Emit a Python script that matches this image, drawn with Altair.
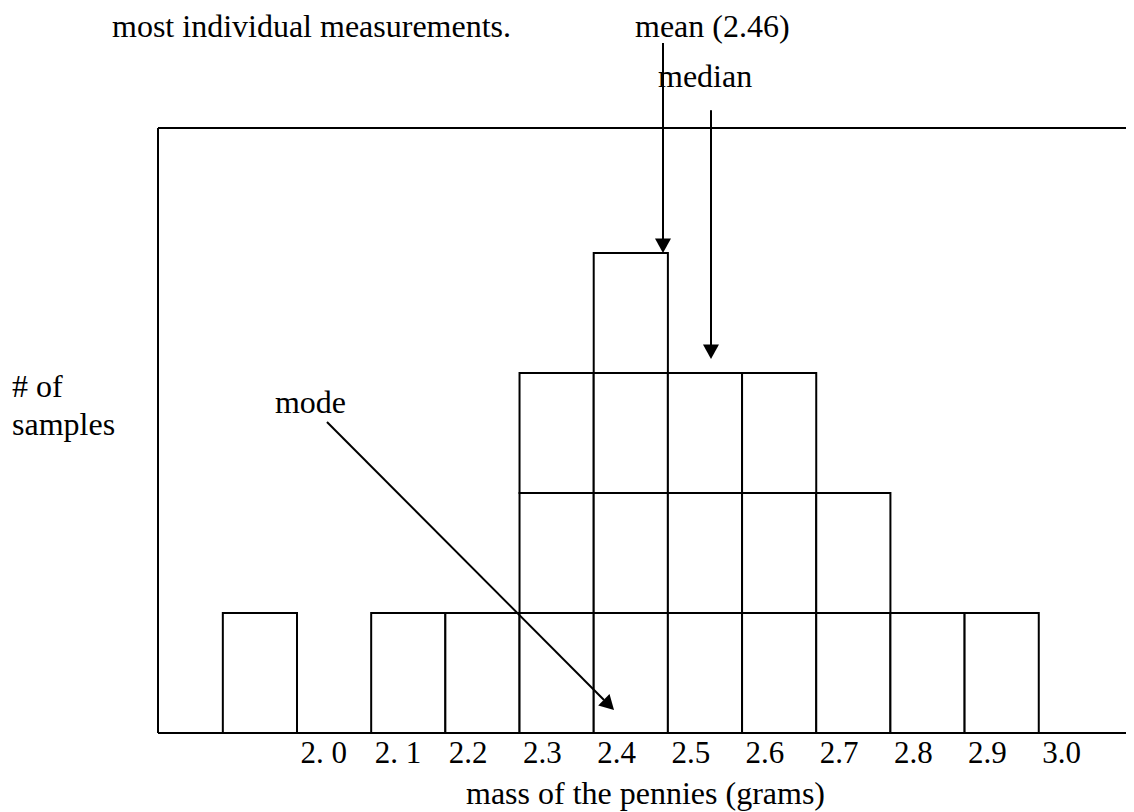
import json
import altair as alt
import pandas as pd

# ---- data ----
bin_starts = [1.9, 2.0, 2.1, 2.2, 2.3, 2.4, 2.5, 2.6, 2.7, 2.8, 2.9]
counts = [1, 0, 1, 1, 3, 4, 3, 3, 2, 1, 1]
bin_width = 0.1

tick_values = [2.0, 2.1, 2.2, 2.3, 2.4, 2.5, 2.6, 2.7, 2.8, 2.9, 3.0]
tick_labels = ["2. 0", "2. 1", "2.2", "2.3", "2.4", "2.5", "2.6", "2.7", "2.8", "2.9", "3.0"]

x_title = "mass of the pennies (grams)"

# annotation texts (data coordinates: grams, samples)
ann_text = ["most individual measurements.", "mean (2.46)", "median", "mode", "# of", "samples"]
ann_x = [1.7506, 2.4557, 2.4867, 1.9703, 1.6158, 1.6158]
ann_y = [5.800, 5.800, 5.383, 2.667, 2.800, 2.483]

# annotation arrows
arrow_name = ["mean", "median", "mode"]
arrow_x_start = [2.4934, 2.5581, 2.0404]
arrow_y_start = [5.750, 5.190, 2.592]
arrow_x_end = [2.4934, 2.5581, 2.4139]
arrow_y_end = [4.110, 3.230, 0.275]
arrow_x_tip = [2.4934, 2.5581, 2.4274]
arrow_y_tip = [4.000, 3.117, 0.192]
arrow_angle = [0, 0, 315]

X_DOMAIN = [1.8126, 3.1176]
Y_DOMAIN = [0, 5.0417]

FONT = "Liberation Serif"

# ---- tables ----
cells = []
for s, c in zip(bin_starts, counts):
    for k in range(c):
        cells.append({"x": s, "x2": round(s + bin_width, 4), "y": k, "y2": k + 1})
cells_df = pd.DataFrame(cells)

box_df = pd.DataFrame({
    "x": [X_DOMAIN[0], X_DOMAIN[0], X_DOMAIN[0]],
    "x2": [X_DOMAIN[1], X_DOMAIN[0], X_DOMAIN[1]],
    "y": [Y_DOMAIN[1], 0, 0],
    "y2": [Y_DOMAIN[1], Y_DOMAIN[1], 0],
})

ann_df = pd.DataFrame({"text": ann_text, "x": ann_x, "y": ann_y})
arrow_df = pd.DataFrame({
    "name": arrow_name,
    "x": arrow_x_start, "y": arrow_y_start,
    "x2": arrow_x_end, "y2": arrow_y_end,
    "tx": arrow_x_tip, "ty": arrow_y_tip,
    "ang": arrow_angle,
})

xscale = alt.Scale(domain=X_DOMAIN, nice=False, zero=False)
yscale = alt.Scale(domain=Y_DOMAIN, nice=False, zero=False)

label_expr = json.dumps(tick_labels) + "[round((datum.value - 2) * 10)]"

x_axis = alt.Axis(
    values=tick_values,
    labelExpr=label_expr,
    labelAlign="left",
    labelBaseline="alphabetic",
    labelPadding=29,
    labelOffset=3,
    labelFont=FONT,
    labelFontSize=31,
    labelColor="black",
    labelOverlap=False,
    labelFlush=False,
    labelBound=False,
    ticks=False,
    tickSize=0,
    domain=False,
    grid=False,
    title=x_title,
    titleFont=FONT,
    titleFontSize=32,
    titleFontWeight="normal",
    titleColor="black",
    titleBaseline="alphabetic",
    titleAlign="center",
    titleX=487,
    titleY=70,
)


def xenc(field):
    return alt.X(field, scale=xscale, axis=x_axis)


def yenc(field):
    return alt.Y(field, scale=yscale, axis=None)


bars = alt.Chart(cells_df).mark_rect(fill="white", stroke="black", strokeWidth=2).encode(
    x=xenc("x:Q"), x2="x2:Q", y=yenc("y:Q"), y2="y2:Q",
)

box = alt.Chart(box_df).mark_rule(color="black", strokeWidth=2).encode(
    x=xenc("x:Q"), x2="x2:Q", y=yenc("y:Q"), y2="y2:Q",
)

shafts = alt.Chart(arrow_df).mark_rule(color="black", strokeWidth=2).encode(
    x=xenc("x:Q"), x2="x2:Q", y=yenc("y:Q"), y2="y2:Q",
)

heads = alt.Chart(arrow_df).mark_point(
    shape="M0,0L-1,-1.8L1,-1.8Z", filled=True, color="black", opacity=1, size=256, strokeWidth=0
).encode(
    x=xenc("tx:Q"),
    y=yenc("ty:Q"),
    angle=alt.Angle("ang:Q", scale=None),
)

texts = alt.Chart(ann_df).mark_text(
    align="left", baseline="alphabetic", font=FONT, fontSize=32, color="black"
).encode(
    x=xenc("x:Q"),
    y=yenc("y:Q"),
    text="text:N",
)

chart = alt.layer(bars, box, shafts, heads, texts).properties(
    width=968,
    height=605,
    padding={"left": 150, "top": 120, "right": 0, "bottom": 79},
    autosize=alt.AutoSizeParams(type="none"),
    background="white",
).configure_view(strokeWidth=0)

chart.save("out.html", embed_options={"renderer": "svg", "actions": False})
